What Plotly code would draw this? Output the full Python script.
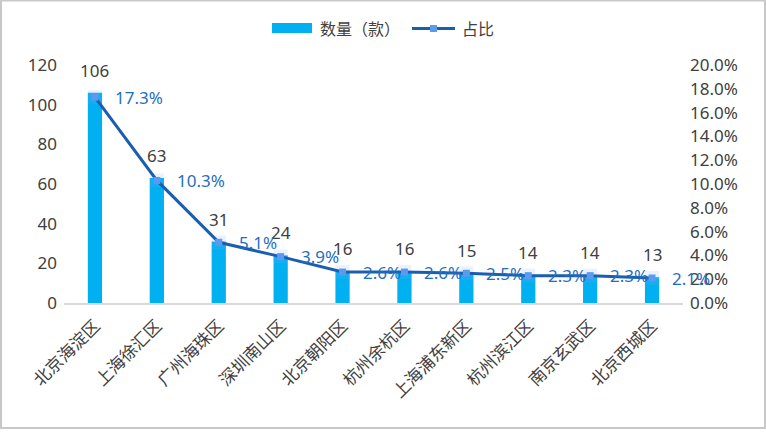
import plotly.graph_objects as go

categories = ["北京海淀区", "上海徐汇区", "广州海珠区", "深圳南山区", "北京朝阳区",
              "杭州余杭区", "上海浦东新区", "杭州滨江区", "南京玄武区", "北京西城区"]
counts = [106, 63, 31, 24, 16, 16, 15, 14, 14, 13]
shares = [17.3, 10.3, 5.1, 3.9, 2.6, 2.6, 2.5, 2.3, 2.3, 2.1]
left_ticks = [0, 20, 40, 60, 80, 100, 120]
right_ticks = [0, 2, 4, 6, 8, 10, 12, 14, 16, 18, 20]
legend_names = ["数量（款）", "占比"]

FONT = "Noto Sans, Noto Sans CJK SC"
CJK = "Noto Sans CJK SC"
W, H = 766, 442
ML, MR, MT, MB = 64, 83, 65, 139
PW, PH = W - ML - MR, H - MT - MB


def px_x(p):
    return (p - ML) / PW


def px_y(p):
    return (H - MB - p) / PH


BAR_C = "#00b0f0"
LINE_C = "#1a5eb0"
MARK_C = "#5b9bef"

fig = go.Figure()
fig.add_trace(go.Bar(
    x=categories, y=counts, name=legend_names[0],
    marker=dict(color=BAR_C, line=dict(width=0)),
    yaxis="y", showlegend=False,
))
fig.add_trace(go.Scatter(
    x=categories, y=shares, yaxis="y2", mode="markers",
    marker=dict(symbol="square", size=14, color="rgba(130,165,255,0.16)", line=dict(width=0)),
    showlegend=False, hoverinfo="skip",
))
fig.add_trace(go.Scatter(
    x=categories, y=shares, name=legend_names[1], yaxis="y2", mode="lines+markers",
    line=dict(color=LINE_C, width=3),
    marker=dict(symbol="square", size=7, color=MARK_C, line=dict(width=0)),
    showlegend=False,
))

annotations = []
for c, v in zip(categories, counts):
    annotations.append(dict(x=c, y=v, xref="x", yref="y", text=str(v), showarrow=False,
                            yanchor="bottom", yshift=9,
                            font=dict(family=FONT, size=17, color="#404040")))
for c, s in zip(categories, shares):
    annotations.append(dict(x=c, y=s, xref="x", yref="y2", text=f"{s:.1f}%", showarrow=False,
                            xanchor="left", xshift=18, yanchor="middle",
                            font=dict(family=FONT, size=17, color="#1f6fc0")))

# manual legend
annotations.append(dict(xref="paper", yref="paper", x=px_x(318), y=px_y(28), text=legend_names[0],
                        showarrow=False, xanchor="left", yanchor="middle",
                        font=dict(family=CJK, size=16, color="#404040")))
annotations.append(dict(xref="paper", yref="paper", x=px_x(460), y=px_y(28), text=legend_names[1],
                        showarrow=False, xanchor="left", yanchor="middle",
                        font=dict(family=CJK, size=16, color="#404040")))

shapes = [
    dict(type="rect", xref="paper", yref="paper",
         x0=px_x(1), x1=px_x(765), y0=px_y(428), y1=px_y(0.5),
         line=dict(color="#c8c8c8", width=2), fillcolor="rgba(0,0,0,0)", layer="below"),
    dict(type="rect", xref="paper", yref="paper",
         x0=px_x(272), x1=px_x(312), y0=px_y(33), y1=px_y(23),
         line=dict(width=0), fillcolor=BAR_C),
    dict(type="line", xref="paper", yref="paper",
         x0=px_x(412), x1=px_x(455), y0=px_y(28.5), y1=px_y(28.5),
         line=dict(color=LINE_C, width=3)),
    dict(type="rect", xref="paper", yref="paper",
         x0=px_x(430), x1=px_x(437), y0=px_y(32), y1=px_y(25),
         line=dict(width=0), fillcolor=MARK_C),
]

fig.update_layout(
    width=W, height=H,
    margin=dict(l=ML, r=MR, t=MT, b=MB, autoexpand=False),
    paper_bgcolor="white", plot_bgcolor="white",
    font=dict(family=FONT, size=16, color="#404040"),
    bargap=0.77,
    showlegend=False,
    xaxis=dict(type="category", range=[-0.5, len(categories) - 0.5], tickangle=-45,
               showline=True, linecolor="#d9d9d9", linewidth=2,
               ticks="", showgrid=False, automargin=False, ticklabelstandoff=4,
               tickfont=dict(family=CJK, size=17, color="#404040")),
    yaxis=dict(range=[0, 120], tickvals=left_ticks, showgrid=False, zeroline=False,
               showline=False, ticks="", automargin=False, ticklabelstandoff=6,
               tickfont=dict(family=FONT, size=17, color="#404040")),
    yaxis2=dict(range=[0, 20], tickvals=right_ticks, ticktext=[f"{t:.1f}%" for t in right_ticks],
                overlaying="y", side="right", showgrid=False, zeroline=False, showline=False,
                ticks="", automargin=False, ticklabelstandoff=6,
                tickfont=dict(family=FONT, size=17, color="#404040")),
    annotations=annotations,
    shapes=shapes,
)

fig.write_html("out.html", config={"displayModeBar": False},
               post_script="document.body.style.margin='0';")
